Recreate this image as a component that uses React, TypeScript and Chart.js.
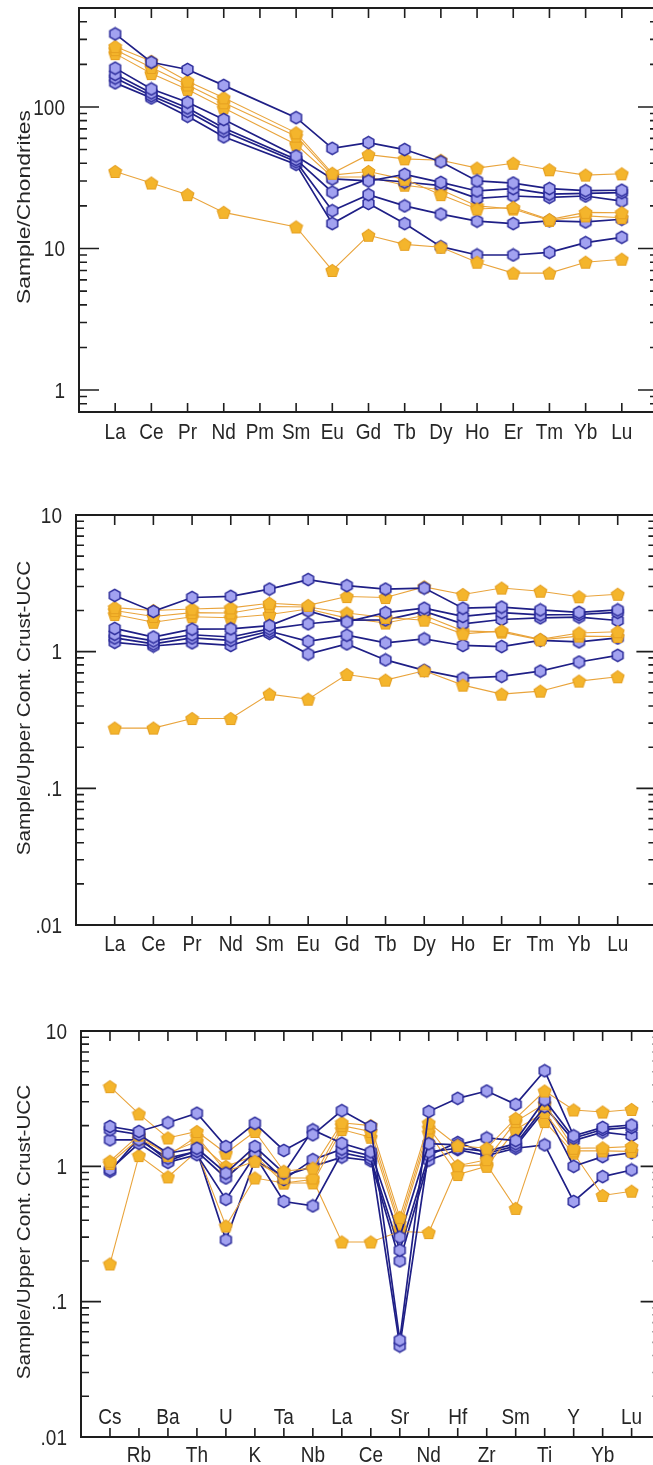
import React, { useEffect, useRef } from 'react';
import { Chart, registerables } from 'chart.js';
Chart.register(...registerables);

// ---------- categories ----------
const REE_CH = ['La', 'Ce', 'Pr', 'Nd', 'Pm', 'Sm', 'Eu', 'Gd', 'Tb', 'Dy', 'Ho', 'Er', 'Tm', 'Yb', 'Lu'];
const REE_UCC = ['La', 'Ce', 'Pr', 'Nd', 'Sm', 'Eu', 'Gd', 'Tb', 'Dy', 'Ho', 'Er', 'Tm', 'Yb', 'Lu'];
const SPIDER = ['Cs', 'Rb', 'Ba', 'Th', 'U', 'K', 'Ta', 'Nb', 'La', 'Ce', 'Sr', 'Nd', 'Hf', 'Zr', 'Sm', 'Ti', 'Y', 'Yb', 'Lu'];

// ---------- tick labels ----------
const Y_LABELS_CH = [{ v: 1, t: '1' }, { v: 10, t: '10' }, { v: 100, t: '100' }];
const Y_LABELS_UCC = [{ v: 0.01, t: '.01' }, { v: 0.1, t: '.1' }, { v: 1, t: '1' }, { v: 10, t: '10' }];

// ---------- panel 1: Sample/Chondrites (Pm = no data) ----------
const CH_B1 = [328, 207, 184, 142, null, 84, 51, 56, 50, 41, 30, 29, 26.5, 25.6, 25.8];
const CH_B2 = [188, 134, 108, 81.5, null, 45, 31, 30, 33.4, 29.3, 25.5, 26.5, 24.2, 24.5, 24.8];
const CH_B3 = [170, 125.6, 98.4, 71, null, 42.6, 25, 31, 29.5, 27.8, 22.6, 23.5, 23, 23.5, 21.6];
const CH_B4 = [160, 120, 93.2, 67.4, null, 41, 18.5, 24, 20, 17.5, 15.6, 15, 15.7, 15.4, 16.1];
const CH_B5 = [148, 115.7, 85.9, 61.5, null, 39.3, 15, 20.8, 15, 10.3, 9.0, 9.0, 9.4, 11, 12];
const CH_O1 = [267, 210, 152, 116, null, 65.6, 34, 46, 43, 42, 37, 40, 36, 33, 33.7];
const CH_O2 = [254, 190, 143, 107, null, 62.2, 33, 35, 30.8, 24, 19, 19.5, 16, 18, 17.9];
const CH_O3 = [238, 172, 133, 98.4, null, 54.3, 32, 32, 28, 26, 20, 19, 15.8, 17, 16.5];
const CH_O4 = [35, 29, 24, 18, null, 14.2, 7, 12.4, 10.7, 10.2, 8, 6.7, 6.7, 8, 8.4];

// ---------- panel 2: REE / UCC ----------
const UR_B1 = [2.58, 1.97, 2.49, 2.54, 2.87, 3.37, 3.04, 2.87, 2.92, 2.08, 2.12, 2.02, 1.94, 2.02];
const UR_B2 = [1.48, 1.28, 1.46, 1.47, 1.55, 1.99, 1.65, 1.93, 2.08, 1.81, 1.93, 1.86, 1.87, 1.94];
const UR_B3 = [1.34, 1.2, 1.33, 1.28, 1.47, 1.6, 1.7, 1.71, 1.97, 1.6, 1.72, 1.77, 1.79, 1.69];
const UR_B4 = [1.26, 1.14, 1.26, 1.21, 1.41, 1.19, 1.32, 1.16, 1.24, 1.11, 1.09, 1.21, 1.18, 1.26];
const UR_B5 = [1.17, 1.1, 1.16, 1.11, 1.36, 0.96, 1.14, 0.87, 0.73, 0.64, 0.66, 0.72, 0.84, 0.94];
const UR_O1 = [2.1, 2.0, 2.05, 2.09, 2.26, 2.18, 2.53, 2.49, 2.98, 2.62, 2.92, 2.77, 2.52, 2.63];
const UR_O2 = [2.0, 1.81, 1.93, 1.92, 2.14, 2.12, 1.92, 1.78, 1.7, 1.35, 1.42, 1.23, 1.37, 1.4];
const UR_O3 = [1.87, 1.64, 1.8, 1.77, 1.87, 2.05, 1.76, 1.62, 1.84, 1.42, 1.39, 1.22, 1.3, 1.29];
const UR_O4 = [0.276, 0.276, 0.324, 0.324, 0.489, 0.449, 0.681, 0.619, 0.725, 0.569, 0.489, 0.514, 0.609, 0.655];

// ---------- panel 3: spider / UCC ----------
const SP_B1 = [1.97, 1.81, 2.1, 2.47, 1.4, 2.08, 1.31, 1.71, 2.58, 1.97, 0.052, 2.54, 3.18, 3.6, 2.87, 5.08, 1.68, 1.94, 2.02];
const SP_B2 = [1.86, 1.72, 1.25, 1.36, 0.89, 1.4, 0.89, 1.86, 1.48, 1.28, 0.3, 1.47, 1.44, 1.62, 1.55, 3.09, 1.62, 1.87, 1.94];
const SP_B3 = [1.57, 1.57, 1.15, 1.29, 0.82, 1.27, 0.8, 1.12, 1.34, 1.2, 0.047, 1.28, 1.36, 1.29, 1.47, 2.76, 1.55, 1.79, 1.69];
const SP_B4 = [0.945, 1.48, 1.07, 1.22, 0.57, 1.2, 0.55, 0.51, 1.26, 1.14, 0.24, 1.21, 1.5, 1.25, 1.41, 2.61, 1.0, 1.18, 1.26];
const SP_B5 = [0.92, 1.62, 1.1, 1.3, 0.286, 1.1, 0.85, 1.0, 1.17, 1.1, 0.2, 1.11, 1.33, 1.2, 1.36, 1.44, 0.55, 0.84, 0.94];
const SP_O1 = [3.88, 2.44, 1.62, 1.81, 1.25, 1.81, 0.92, 0.97, 2.1, 2.0, 0.42, 2.09, 1.42, 1.36, 2.26, 3.6, 2.61, 2.52, 2.63];
const SP_O2 = [1.09, 1.7, 1.2, 1.66, 0.92, 1.09, 0.82, 0.82, 2.0, 1.81, 0.38, 1.92, 1.01, 1.12, 2.14, 2.9, 1.36, 1.37, 1.4];
const SP_O3 = [1.05, 1.6, 1.25, 1.53, 1.0, 1.2, 0.754, 0.754, 1.87, 1.64, 0.35, 1.77, 0.87, 1.0, 1.87, 2.5, 1.3, 1.3, 1.29];
const SP_O4 = [0.19, 1.2, 0.835, 1.29, 0.362, 0.82, 0.754, 0.8, 0.276, 0.276, 0.33, 0.324, 1.0, 1.03, 0.489, 2.14, 1.25, 0.609, 0.655];

const FONT = '"Liberation Sans", Arial, sans-serif';
const TEXT = '#262626';
const AXIS = '#1e1e1e';
const TICK_FONT = 19;
const STRETCH = 1.15;

type Series = { kind: 'b' | 'o'; data: (number | null)[] };
type Panel = {
  top: number; height: number;
  area: { left: number; right: number; top: number; bottom: number };
  cats: string[]; yMin: number; yMax: number;
  yLabels: { v: number; t: string }[];
  title: string; titleFont: number; titleStretch: number; titleY: number; alt: boolean;
  labelBase: number; labelBase2?: number;
  series: Series[];
};

const CW = 680;

function makeHex(): HTMLCanvasElement {
  const s = 15;
  const c = document.createElement('canvas');
  c.width = s; c.height = s;
  const g = c.getContext('2d')!;
  const r = 6.2;
  g.beginPath();
  for (let k = 0; k < 6; k++) {
    const a = (Math.PI / 180) * (-90 + 60 * k);
    const x = s / 2 + r * Math.cos(a), y = s / 2 + r * Math.sin(a);
    if (k) g.lineTo(x, y); else g.moveTo(x, y);
  }
  g.closePath();
  g.fillStyle = '#a2a2f0';
  g.fill();
  g.lineWidth = 1.5;
  g.strokeStyle = '#2a2a9a';
  g.stroke();
  return c;
}

function makePent(): HTMLCanvasElement {
  const s = 15;
  const c = document.createElement('canvas');
  c.width = s; c.height = s;
  const g = c.getContext('2d')!;
  const r = 6.7;
  g.beginPath();
  for (let k = 0; k < 5; k++) {
    const a = (Math.PI / 180) * (-90 + 72 * k);
    const x = s / 2 + r * Math.cos(a), y = s / 2 + 0.6 + r * Math.sin(a);
    if (k) g.lineTo(x, y); else g.moveTo(x, y);
  }
  g.closePath();
  g.fillStyle = '#f4b52c';
  g.fill();
  g.lineWidth = 1.1;
  g.strokeStyle = '#e6a020';
  g.stroke();
  return c;
}

function interleave(b: (number | null)[][], o: (number | null)[][]): Series[] {
  const out: Series[] = [];
  for (let i = 0; i < 5; i++) {
    out.push({ kind: 'b', data: b[i] });
    if (i < 4) out.push({ kind: 'o', data: o[i] });
  }
  return out;
}

const PANELS: Panel[] = [
  {
    top: 0, height: 460,
    area: { left: 79, right: 658, top: 8, bottom: 412 },
    cats: REE_CH, yMin: 0.715, yMax: 500, yLabels: Y_LABELS_CH,
    title: 'Sample/Chondrites', titleFont: 19, titleStretch: 1.2, titleY: 207, alt: false, labelBase: 439,
    series: interleave([CH_B1, CH_B2, CH_B3, CH_B4, CH_B5], [CH_O1, CH_O2, CH_O3, CH_O4]),
  },
  {
    top: 462, height: 500,
    area: { left: 76, right: 656.4, top: 515, bottom: 925 },
    cats: REE_UCC, yMin: 0.01, yMax: 10, yLabels: Y_LABELS_UCC,
    title: 'Sample/Upper Cont. Crust-UCC', titleFont: 18, titleStretch: 1.15, titleY: 708, alt: false, labelBase: 951,
    series: interleave([UR_B1, UR_B2, UR_B3, UR_B4, UR_B5], [UR_O1, UR_O2, UR_O3, UR_O4]),
  },
  {
    top: 965, height: 500,
    area: { left: 81, right: 660.6, top: 1031, bottom: 1437 },
    cats: SPIDER, yMin: 0.01, yMax: 10, yLabels: Y_LABELS_UCC,
    title: 'Sample/Upper Cont. Crust-UCC', titleFont: 18, titleStretch: 1.15, titleY: 1232, alt: true, labelBase: 1424, labelBase2: 1462,
    series: interleave([SP_B1, SP_B2, SP_B3, SP_B4, SP_B5], [SP_O1, SP_O2, SP_O3, SP_O4]),
  },
];

function stretchedText(ctx: CanvasRenderingContext2D, t: string, x: number, baseY: number) {
  ctx.save();
  ctx.translate(x, baseY);
  ctx.scale(1, STRETCH);
  ctx.fillText(t, 0, 0);
  ctx.restore();
}

function PanelChart({ p }: { p: Panel }) {
  const ref = useRef<HTMLCanvasElement | null>(null);
  useEffect(() => {
    if (!ref.current) return;
    const hex = makeHex();
    const pent = makePent();
    const n = p.cats.length;
    const datasets = p.series.map((s, idx) => {
      const pts: { x: number; y: number }[] = [];
      s.data.forEach((v, i) => { if (v !== null && v !== undefined) pts.push({ x: i, y: v }); });
      const blue = s.kind === 'b';
      return {
        data: pts,
        borderColor: blue ? '#1f1f86' : '#e9a43c',
        borderWidth: blue ? 1.7 : 1.1,
        pointStyle: blue ? hex : pent,
        pointRadius: 6,
        pointHoverRadius: 6,
        backgroundColor: blue ? '#a2a2f0' : '#f4b52c',
        fill: false,
        tension: 0,
        order: idx,
      };
    });

    const capOff = 0.716 * TICK_FONT * STRETCH / 2;

    const framePlugin = {
      id: 'frame',
      afterDraw(chart: any) {
        const ctx: CanvasRenderingContext2D = chart.ctx;
        const xs = chart.scales.x, ys = chart.scales.y;
        const a = chart.chartArea;
        const off = p.top;
        ctx.save();
        ctx.strokeStyle = AXIS;
        ctx.lineWidth = 2;
        ctx.beginPath();
        ctx.moveTo(a.right, a.top); ctx.lineTo(a.left, a.top); ctx.lineTo(a.left, a.bottom); ctx.lineTo(a.right, a.bottom); ctx.lineTo(a.right, a.top);
        ctx.stroke();
        // y ticks (left and mirrored right)
        ctx.lineWidth = 1.6;
        const lo = Math.floor(Math.log10(p.yMin)), hi = Math.ceil(Math.log10(p.yMax));
        for (let e = lo; e <= hi; e++) {
          for (let m = 1; m <= 9; m++) {
            const v = m * Math.pow(10, e);
            if (v < p.yMin * 0.999 || v > p.yMax * 1.001) continue;
            const y = ys.getPixelForValue(v);
            const len = m === 1 ? 20 : 8;
            ctx.beginPath();
            ctx.moveTo(a.left, y); ctx.lineTo(a.left + len, y);
            ctx.moveTo(a.right, y); ctx.lineTo(a.right - len, y);
            ctx.stroke();
          }
        }
        // x ticks (bottom and mirrored top)
        for (let i = 0; i < n; i++) {
          const x = xs.getPixelForValue(i);
          ctx.beginPath();
          ctx.moveTo(x, a.top); ctx.lineTo(x, a.top + 10);
          ctx.moveTo(x, a.bottom); ctx.lineTo(x, a.bottom - 9);
          ctx.stroke();
        }
        // y labels
        ctx.fillStyle = TEXT;
        ctx.font = `${TICK_FONT}px ${FONT}`;
        ctx.textAlign = 'right';
        ctx.textBaseline = 'alphabetic';
        p.yLabels.forEach((l) => {
          const y = ys.getPixelForValue(l.v);
          stretchedText(ctx, l.t, a.left - 14, y + capOff);
        });
        // x labels
        ctx.textAlign = 'center';
        p.cats.forEach((c, i) => {
          const x = xs.getPixelForValue(i);
          const yy = p.alt ? (i % 2 === 0 ? p.labelBase : (p.labelBase2 as number)) : p.labelBase;
          stretchedText(ctx, c, x, yy - off);
        });
        // y title
        ctx.save();
        ctx.translate(25, p.titleY - off);
        ctx.rotate(-Math.PI / 2);
        ctx.scale(p.titleStretch, 1);
        ctx.font = `${p.titleFont}px ${FONT}`;
        ctx.textAlign = 'center';
        ctx.textBaseline = 'middle';
        ctx.fillText(p.title, 0, 0);
        ctx.restore();
        ctx.restore();
      },
    };

    const chart = new Chart(ref.current, {
      type: 'line',
      data: { datasets: datasets as any },
      options: {
        animation: false,
        responsive: false,
        devicePixelRatio: 1,
        events: [],
        layout: {
          padding: {
            left: p.area.left,
            right: CW - p.area.right,
            top: p.area.top - p.top,
            bottom: p.top + p.height - p.area.bottom,
          },
        },
        plugins: { legend: { display: false }, tooltip: { enabled: false }, title: { display: false } },
        scales: {
          x: { type: 'linear', min: -1, max: n, display: false },
          y: { type: 'logarithmic', min: p.yMin, max: p.yMax, display: false },
        },
      },
      plugins: [framePlugin as any],
    });
    return () => chart.destroy();
  }, [p]);
  return (
    <canvas
      ref={ref}
      width={CW}
      height={p.height}
      style={{ position: 'absolute', left: 0, top: p.top, width: CW, height: p.height }}
    />
  );
}

export default function App() {
  return (
    <div style={{ position: 'absolute', left: 0, top: 0, width: 653, height: 1465, overflow: 'hidden', background: '#fff' }}>
      {PANELS.map((p, i) => (
        <PanelChart key={i} p={p} />
      ))}
    </div>
  );
}
